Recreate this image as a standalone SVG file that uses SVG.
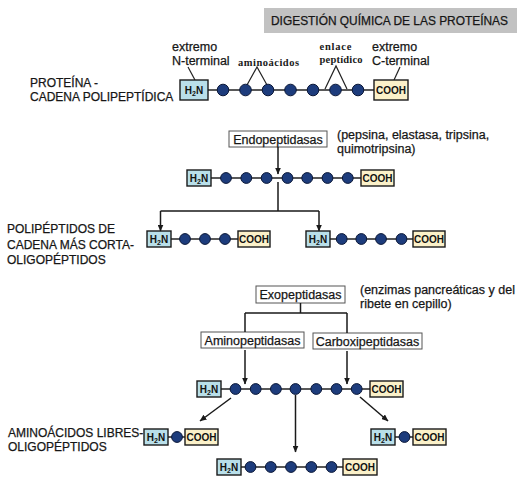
<svg xmlns="http://www.w3.org/2000/svg" width="524" height="498" viewBox="0 0 524 498">
<defs>
<style>
.t{font-family:"Liberation Sans",Arial,sans-serif;fill:#161616;stroke:#161616;stroke-width:0.25}
.lbl{font-size:12px}
.ann{font-size:12.5px}
.sm{font-family:"Liberation Serif","Times New Roman",serif;font-size:10.5px;font-weight:bold;fill:#1a1a1a}
.nb{fill:#b9dfe9;stroke:#1a1a1a;stroke-width:1.4}
.cb{fill:#fbf1c9;stroke:#1a1a1a;stroke-width:1.4}
.bt{font-family:"Liberation Sans",Arial,sans-serif;font-size:10px;font-weight:bold;fill:#111;text-anchor:middle}
.aa{fill:#1d3c7c;stroke:#0b1838;stroke-width:1}
.bond{stroke:#222;stroke-width:1.5;fill:none}
.eb{fill:#fff;stroke:#555;stroke-width:1}
.et{font-family:"Liberation Sans",Arial,sans-serif;font-size:12.5px;fill:#161616;stroke:#161616;stroke-width:0.25;text-anchor:middle}
.c{stroke:#1a1a1a;stroke-width:1.5;fill:none}
.ca{stroke:#1a1a1a;stroke-width:1.5;fill:none;marker-end:url(#ah)}
.thin{stroke:#222;stroke-width:1.2;fill:none}
</style>
<marker id="ah" markerWidth="7" markerHeight="6" refX="6.5" refY="3" orient="auto" markerUnits="userSpaceOnUse">
<path d="M0,0 L7,3 L0,6 z" fill="#1a1a1a"/>
</marker>
</defs>

<g id="title">
<rect x="264" y="8" width="253" height="25" fill="#c2c2c2"/>
<text class="t" x="389.5" y="25" font-size="12" text-anchor="middle" textLength="237" lengthAdjust="spacingAndGlyphs">DIGESTIÓN QUÍMICA DE LAS PROTEÍNAS</text>
</g>

<g id="labels">
<text class="t lbl" x="30" y="87">PROTEÍNA -</text>
<text class="t lbl" x="30" y="101">CADENA POLIPEPTÍDICA</text>
<text class="t ann" x="172" y="51">extremo</text>
<text class="t ann" x="172" y="65">N-terminal</text>
<text class="t ann" x="372" y="51">extremo</text>
<text class="t ann" x="372" y="65">C-terminal</text>
<text class="sm" x="238" y="65.5" textLength="61" lengthAdjust="spacing">aminoácidos</text>
<text class="sm" x="319.5" y="50" textLength="32" lengthAdjust="spacing">enlace</text>
<text class="sm" x="319.5" y="62.5" textLength="43" lengthAdjust="spacing">peptídico</text>
<polyline class="thin" points="188,67 195,80"/>
<polyline class="thin" points="400,67 394,80"/>
<polyline class="thin" points="247,85 257,67 267,85"/>
<polyline class="thin" points="325,89 336,66 347,89"/>
<text class="t ann" x="337" y="139">(pepsina, elastasa, tripsina,</text>
<text class="t ann" x="337" y="153">quimotripsina)</text>
<text class="t lbl" x="7" y="233">POLIPÉPTIDOS DE</text>
<text class="t lbl" x="7" y="248.5">CADENA MÁS CORTA-</text>
<text class="t lbl" x="7" y="264">OLIGOPÉPTIDOS</text>
<text class="t ann" x="360" y="294">(enzimas pancreáticas y del</text>
<text class="t ann" x="360" y="308">ribete en cepillo)</text>
<text class="t lbl" x="8" y="437">AMINOÁCIDOS LIBRES-</text>
<text class="t lbl" x="8" y="451">OLIGOPÉPTIDOS</text>
</g>

<g id="chain-protein">
<line class="bond" x1="208" y1="90" x2="374" y2="90"/>
<rect class="nb" x="180" y="80" width="28" height="20"/>
<text class="bt" x="194" y="94" font-size="10.5">H<tspan font-size="7" dy="2">2</tspan><tspan dy="-2">N</tspan></text>
<circle class="aa" cx="223" cy="90" r="5.8"/>
<circle class="aa" cx="245.5" cy="90" r="5.8"/>
<circle class="aa" cx="268" cy="90" r="5.8"/>
<circle class="aa" cx="290.5" cy="90" r="5.8"/>
<circle class="aa" cx="313" cy="90" r="5.8"/>
<circle class="aa" cx="335.5" cy="90" r="5.8"/>
<circle class="aa" cx="358" cy="90" r="5.8"/>
<rect class="cb" x="374" y="80" width="34" height="20"/>
<text class="bt" x="391" y="94" font-size="10.5">COOH</text>
</g>

<g id="endopeptidasas">
<rect class="eb" x="229" y="131" width="98" height="16"/>
<text class="et" x="278" y="143.5">Endopeptidasas</text>
</g>

<g id="chain-2">
<line class="bond" x1="211" y1="178" x2="361" y2="178"/>
<rect class="nb" x="187" y="170" width="24" height="16"/>
<text class="bt" x="199" y="182">H<tspan font-size="7" dy="2">2</tspan><tspan dy="-2">N</tspan></text>
<circle class="aa" cx="226" cy="178" r="5.4"/>
<circle class="aa" cx="246.3" cy="178" r="5.4"/>
<circle class="aa" cx="266.6" cy="178" r="5.4"/>
<circle class="aa" cx="287.5" cy="178" r="5.4"/>
<circle class="aa" cx="307.2" cy="178" r="5.4"/>
<circle class="aa" cx="327.5" cy="178" r="5.4"/>
<circle class="aa" cx="347.8" cy="178" r="5.4"/>
<rect class="cb" x="361" y="170" width="33" height="16"/>
<text class="bt" x="377.5" y="182">COOH</text>
</g>

<g id="chain-3a">
<line class="bond" x1="171" y1="239" x2="238" y2="239"/>
<rect class="nb" x="147" y="231" width="24" height="16"/>
<text class="bt" x="159" y="243">H<tspan font-size="7" dy="2">2</tspan><tspan dy="-2">N</tspan></text>
<circle class="aa" cx="185" cy="239" r="5.4"/>
<circle class="aa" cx="205" cy="239" r="5.4"/>
<circle class="aa" cx="225" cy="239" r="5.4"/>
<rect class="cb" x="238" y="231" width="32" height="16"/>
<text class="bt" x="254" y="243">COOH</text>
</g>

<g id="chain-3b">
<line class="bond" x1="330" y1="239" x2="413" y2="239"/>
<rect class="nb" x="306" y="231" width="24" height="16"/>
<text class="bt" x="318" y="243">H<tspan font-size="7" dy="2">2</tspan><tspan dy="-2">N</tspan></text>
<circle class="aa" cx="341.7" cy="239" r="5.4"/>
<circle class="aa" cx="361.3" cy="239" r="5.4"/>
<circle class="aa" cx="381" cy="239" r="5.4"/>
<circle class="aa" cx="401.5" cy="239" r="5.4"/>
<rect class="cb" x="413" y="231" width="32" height="16"/>
<text class="bt" x="429" y="243">COOH</text>
</g>

<g id="exopeptidasas">
<rect class="eb" x="256" y="286" width="89" height="17"/>
<text class="et" x="300.5" y="299">Exopeptidasas</text>
</g>

<g id="aminopeptidasas">
<rect class="eb" x="201" y="332" width="103" height="16"/>
<text class="et" x="252.5" y="344.5">Aminopeptidasas</text>
</g>

<g id="carboxipeptidasas">
<rect class="eb" x="313" y="333" width="109" height="16"/>
<text class="et" x="367.5" y="345.5">Carboxipeptidasas</text>
</g>

<g id="chain-4">
<line class="bond" x1="221" y1="389" x2="370" y2="389"/>
<rect class="nb" x="197" y="381" width="24" height="16"/>
<text class="bt" x="209" y="393">H<tspan font-size="7" dy="2">2</tspan><tspan dy="-2">N</tspan></text>
<circle class="aa" cx="235.5" cy="389" r="5.4"/>
<circle class="aa" cx="255.7" cy="389" r="5.4"/>
<circle class="aa" cx="275.9" cy="389" r="5.4"/>
<circle class="aa" cx="295.5" cy="389" r="5.4"/>
<circle class="aa" cx="316.3" cy="389" r="5.4"/>
<circle class="aa" cx="336.5" cy="389" r="5.4"/>
<circle class="aa" cx="356.7" cy="389" r="5.4"/>
<rect class="cb" x="370" y="381" width="33" height="16"/>
<text class="bt" x="386.5" y="393">COOH</text>
</g>

<g id="chain-5a">
<line class="bond" x1="168" y1="437" x2="185" y2="437"/>
<rect class="nb" x="144" y="429" width="24" height="16"/>
<text class="bt" x="156" y="441">H<tspan font-size="7" dy="2">2</tspan><tspan dy="-2">N</tspan></text>
<circle class="aa" cx="177" cy="437" r="5.4"/>
<rect class="cb" x="185" y="429" width="33" height="16"/>
<text class="bt" x="201.5" y="441">COOH</text>
</g>

<g id="chain-5b">
<line class="bond" x1="395" y1="437" x2="413" y2="437"/>
<rect class="nb" x="371" y="429" width="24" height="16"/>
<text class="bt" x="383" y="441">H<tspan font-size="7" dy="2">2</tspan><tspan dy="-2">N</tspan></text>
<circle class="aa" cx="404.5" cy="437" r="5.4"/>
<rect class="cb" x="413" y="429" width="33" height="16"/>
<text class="bt" x="429.5" y="441">COOH</text>
</g>

<g id="chain-5c">
<line class="bond" x1="241" y1="467" x2="343" y2="467"/>
<rect class="nb" x="217" y="459" width="24" height="16"/>
<text class="bt" x="229" y="471">H<tspan font-size="7" dy="2">2</tspan><tspan dy="-2">N</tspan></text>
<circle class="aa" cx="250.5" cy="467" r="5.4"/>
<circle class="aa" cx="270.8" cy="467" r="5.4"/>
<circle class="aa" cx="291" cy="467" r="5.4"/>
<circle class="aa" cx="311.3" cy="467" r="5.4"/>
<circle class="aa" cx="331.5" cy="467" r="5.4"/>
<rect class="cb" x="343" y="459" width="34" height="16"/>
<text class="bt" x="360" y="471">COOH</text>
</g>

<g id="connectors">
<path class="ca" d="M278,147 V174"/>
<path class="c" d="M278,182 V211 M160.5,211 H319"/>
<path class="ca" d="M160.5,211 V231"/>
<path class="ca" d="M319,211 V231"/>
<path class="c" d="M300.5,303 V313 M245,313 H347 M245,313 V332 M347,313 V333"/>
<path class="ca" d="M245,350 V384"/>
<path class="ca" d="M347,351 V384"/>
<path class="ca" d="M231,398 L200,421"/>
<path class="ca" d="M295.5,395 V452"/>
<path class="ca" d="M360,397 L388,421"/>
</g>
</svg>
